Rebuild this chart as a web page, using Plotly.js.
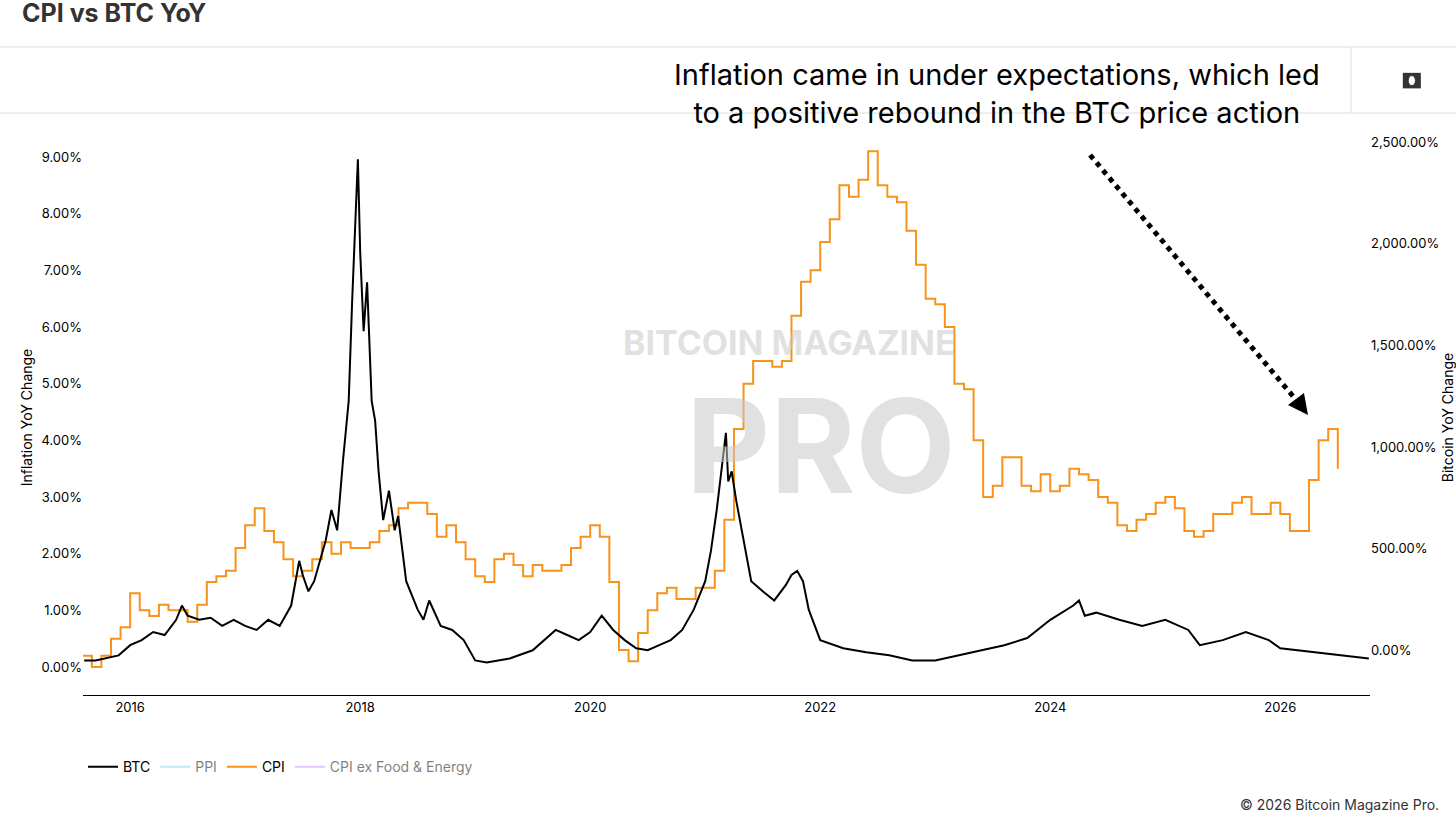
<!DOCTYPE html>
<html>
<head>
<meta charset="utf-8">
<script src="https://cdn.plot.ly/plotly-3.0.1.min.js"></script>
<style>html,body{margin:0;padding:0;background:#fff}#chart{width:1456px;height:818px}</style>
</head>
<body>
<div id="chart"></div>
<script>
// CPI YoY (%), monthly from 2015-08
var cpiStart = 2015 + 7 / 12;
var cpiValues = [
    0.2, 0.0, 0.2, 0.5, 0.7,
    1.3, 1.0, 0.9, 1.1, 1.0, 1.0, 0.8, 1.1, 1.5, 1.6, 1.7, 2.1,
    2.5, 2.8, 2.4, 2.2, 1.9, 1.6, 1.7, 1.9, 2.2, 2.0, 2.2, 2.1,
    2.1, 2.2, 2.4, 2.5, 2.8, 2.9, 2.9, 2.7, 2.3, 2.5, 2.2, 1.9,
    1.6, 1.5, 1.9, 2.0, 1.8, 1.6, 1.8, 1.7, 1.7, 1.8, 2.1, 2.3,
    2.5, 2.3, 1.5, 0.3, 0.1, 0.6, 1.0, 1.3, 1.4, 1.2, 1.2, 1.4,
    1.4, 1.7, 2.6, 4.2, 5.0, 5.4, 5.4, 5.3, 5.4, 6.2, 6.8, 7.0,
    7.5, 7.9, 8.5, 8.3, 8.6, 9.1, 8.5, 8.3, 8.2, 7.7, 7.1, 6.5,
    6.4, 6.0, 5.0, 4.9, 4.0, 3.0, 3.2, 3.7, 3.7, 3.2, 3.1, 3.4,
    3.1, 3.2, 3.5, 3.4, 3.3, 3.0, 2.9, 2.5, 2.4, 2.6, 2.7, 2.9,
    3.0, 2.8, 2.4, 2.3, 2.4, 2.7, 2.7, 2.9, 3.0, 2.7, 2.7, 2.9,
    2.7, 2.4, 2.4, 3.3, 4.0, 4.2, 3.5
];
var cpiDates = cpiValues.map(function (v, i) { return cpiStart + i / 12; });

// BTC YoY (%)
var btcDates = [2015.6, 2015.7, 2015.9, 2016.0, 2016.1, 2016.2, 2016.3, 2016.4, 2016.45, 2016.5, 2016.6, 2016.7, 2016.8, 2016.9,
    2017.0, 2017.1, 2017.2, 2017.3, 2017.4, 2017.47, 2017.5, 2017.55, 2017.6, 2017.7, 2017.75, 2017.8, 2017.85, 2017.9, 2017.93,
    2017.96, 2017.98, 2018.0, 2018.03, 2018.06, 2018.1, 2018.13, 2018.16, 2018.2, 2018.25, 2018.3, 2018.33, 2018.4, 2018.5,
    2018.55, 2018.6, 2018.7, 2018.8, 2018.9, 2019.0, 2019.1, 2019.3, 2019.5, 2019.6, 2019.7, 2019.8, 2019.9, 2020.0, 2020.1,
    2020.2, 2020.3, 2020.4, 2020.5, 2020.6, 2020.7, 2020.8, 2020.9, 2021.0, 2021.05, 2021.1, 2021.15, 2021.18, 2021.2, 2021.23,
    2021.27, 2021.3, 2021.35, 2021.4, 2021.5, 2021.6, 2021.7, 2021.75, 2021.8, 2021.85, 2021.9, 2022.0, 2022.2, 2022.4, 2022.6,
    2022.8, 2023.0, 2023.2, 2023.4, 2023.6, 2023.8, 2024.0, 2024.2, 2024.25, 2024.3, 2024.4, 2024.6, 2024.8, 2025.0, 2025.2,
    2025.3, 2025.5, 2025.7, 2025.9, 2026.0, 2026.3, 2026.5, 2026.77];
var btcValues = [-50, -50, -25, 25, 50, 90, 75, 150, 220, 170, 150, 160, 120, 150,
    120, 100, 150, 120, 220, 440, 370, 290, 340, 540, 690, 590, 930, 1225, 1715,
    2150, 2415, 1960, 1570, 1810, 1225, 1130, 880, 640, 785, 590, 660, 340, 200,
    150, 245, 120, 100, 50, -50, -60, -40, 0, 50, 100, 75, 50, 90, 170,
    100, 50, 10, 0, 25, 50, 100, 200, 340, 490, 690, 930, 1070, 830, 880,
    735, 640, 490, 340, 290, 245, 320, 370, 390, 340, 200, 50, 10, -10, -25,
    -50, -50, -25, 0, 25, 60, 150, 220, 245, 170, 185, 150, 120, 150, 100,
    25, 50, 90, 50, 10, -10, -25, -40];

var yearTicks = [2016, 2018, 2020, 2022, 2024, 2026];
var leftTicks = [0, 1, 2, 3, 4, 5, 6, 7, 8, 9];
var rightTicks = [0, 500, 1000, 1500, 2000, 2500];

var font = 'Inter, "Noto Sans", sans-serif';

var data = [
    {x: btcDates, y: btcValues, name: 'BTC', type: 'scatter', mode: 'lines', yaxis: 'y2',
     line: {color: '#000', width: 2}},
    {x: [cpiStart], y: [null], name: 'PPI', type: 'scatter', mode: 'lines', visible: 'legendonly',
     line: {color: '#87cefa', width: 2}},
    {x: cpiDates, y: cpiValues, name: 'CPI', type: 'scatter', mode: 'lines',
     line: {color: '#f7931a', width: 2, shape: 'hv'}},
    {x: [cpiStart], y: [null], name: 'CPI ex Food & Energy', type: 'scatter', mode: 'lines', visible: 'legendonly',
     line: {color: '#cc88ff', width: 2}}
];

var layout = {
    width: 1456, height: 818,
    margin: {l: 83, r: 86, t: 140, b: 123},
    paper_bgcolor: '#fff', plot_bgcolor: '#fff',
    font: {family: font, size: 13, color: '#000'},
    showlegend: true,
    legend: {orientation: 'h', x: 0.0, y: -0.13, xanchor: 'left', yanchor: 'middle', font: {size: 14}},
    xaxis: {range: [2015.59, 2026.78], tickvals: yearTicks, ticktext: yearTicks.map(String),
        showgrid: false, zeroline: false, showline: true, linecolor: '#000', ticks: '', tickfont: {size: 13}},
    yaxis: {range: [-0.494, 9.30], tickvals: leftTicks,
        ticktext: leftTicks.map(function (v) { return v.toFixed(2) + '%'; }),
        showgrid: false, zeroline: false, title: {text: 'Inflation YoY Change', font: {size: 14}, standoff: 5}},
    yaxis2: {range: [-220, 2510], overlaying: 'y', side: 'right', tickvals: rightTicks,
        ticktext: rightTicks.map(function (v) { return v.toLocaleString('en-US', {minimumFractionDigits: 2}) + '%'; }),
        showgrid: false, zeroline: false,
        title: {text: 'Bitcoin YoY Change', font: {size: 14}, standoff: 5}},
    shapes: [
        {type: 'line', xref: 'paper', yref: 'paper', x0: -0.07, x1: 1.07, y0: 1.1676, y1: 1.1676, line: {color: '#ddd', width: 1}},
        {type: 'line', xref: 'paper', yref: 'paper', x0: -0.07, x1: 1.07, y0: 1.0486, y1: 1.0486, line: {color: '#ddd', width: 1}},
        {type: 'line', xref: 'paper', yref: 'paper', x0: 0.9853, x1: 0.9853, y0: 1.0486, y1: 1.1676, line: {color: '#ddd', width: 1}},
        {type: 'line', xref: 'paper', yref: 'paper', x0: 0.7825, y0: 0.973, x1: 0.945, y1: 0.525,
         line: {color: '#000', width: 5, dash: 'dot'}},
        {type: 'rect', xref: 'paper', yref: 'paper', x0: 1.0255, x1: 1.0395, y0: 1.093, y1: 1.121, fillcolor: '#333', line: {width: 0}},
        {type: 'circle', xref: 'paper', yref: 'paper', x0: 1.0297, x1: 1.0353, y0: 1.098, y1: 1.116, fillcolor: '#fff', line: {color: '#333', width: 1}}
    ],
    annotations: [
        {xref: 'paper', yref: 'paper', x: -0.049, y: 1.228, xanchor: 'left', yanchor: 'middle', showarrow: false,
         text: '<b>CPI vs BTC YoY</b>', font: {size: 25, color: '#333'}},
        {xref: 'paper', yref: 'paper', x: 0.7105, y: 1.083, xanchor: 'center', yanchor: 'middle', showarrow: false,
         text: 'Inflation came in under expectations, which led<br>to a positive rebound in the BTC price action',
         font: {size: 29, color: '#000'}},
        {xref: 'paper', yref: 'paper', x: 0.9518, y: 0.5045, ax: -6, ay: -8, text: '', showarrow: true,
         arrowhead: 2, arrowsize: 0.8, arrowwidth: 5, arrowcolor: '#000'},
        {xref: 'paper', yref: 'paper', x: 0.6795, y: 0.635, showarrow: false, text: '<b>BITCOIN MAGAZINE</b>',
         font: {size: 34, color: 'rgba(200,200,200,0.55)', family: font}},
        {xref: 'paper', yref: 'paper', x: 0.6795, y: 0.45, showarrow: false, text: '<b>PRO</b>',
         font: {size: 130, color: 'rgba(200,200,200,0.55)', family: font}},
        {xref: 'paper', yref: 'paper', x: 1.055, y: -0.198, xanchor: 'right', yanchor: 'middle', showarrow: false,
         text: '© 2026 Bitcoin Magazine Pro.', font: {size: 14, color: '#333'}}
    ]
};

Plotly.newPlot('chart', data, layout, {displayModeBar: false});
</script>
</body>
</html>
